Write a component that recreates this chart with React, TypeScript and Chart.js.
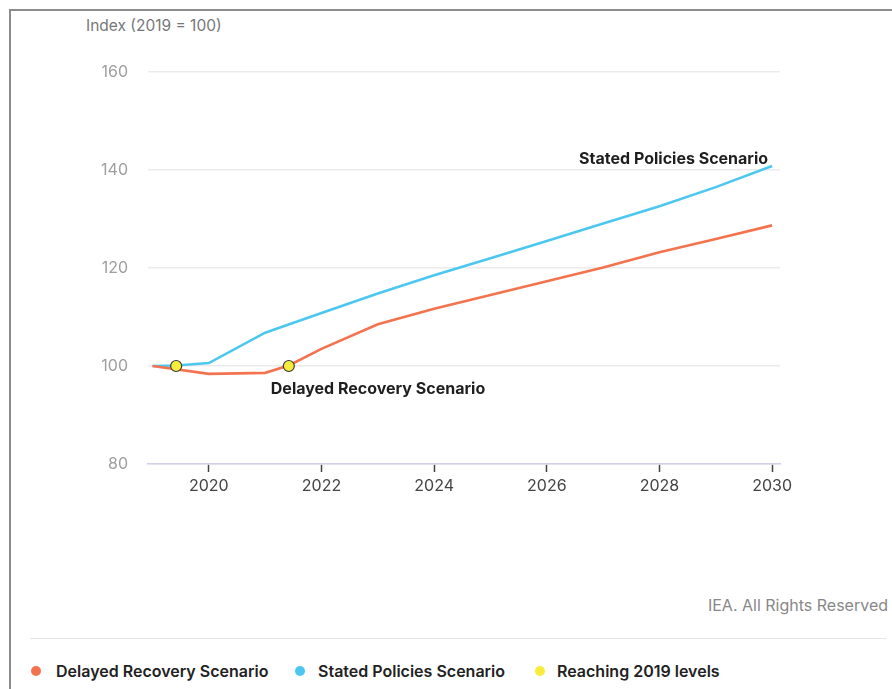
import React, { useEffect, useRef } from 'react';
import { Chart, registerables } from 'chart.js';

Chart.register(...registerables);

// ---- data ----
const delayedYears = [2019, 2020, 2021, 2021.42, 2022, 2023, 2024, 2025, 2026, 2027, 2028, 2029, 2030];
const delayedValues = [100, 98.4, 98.6, 100.1, 103.5, 108.5, 111.7, 114.5, 117.3, 120.1, 123.2, 125.9, 128.7];

const statedYears = [2019, 2019.42, 2020, 2021, 2022, 2023, 2024, 2025, 2026, 2027, 2028, 2029, 2030];
const statedValues = [100, 100.1, 100.6, 106.8, 110.8, 114.8, 118.5, 122.0, 125.5, 129.1, 132.6, 136.5, 140.8];

const reachingYears = [2019.42, 2021.42];
const reachingValues = [100, 100];

const xTicks = [2020, 2022, 2024, 2026, 2028, 2030];
const yTicks = [80, 100, 120, 140, 160];

const ORANGE = '#f4734f';
const BLUE = '#4cc8f0';
const YELLOW = '#f6ec3c';
const FONT = 'Inter, "Open Sans", sans-serif';

const labelPlugin = {
  id: 'scenarioLabels',
  afterDatasetsDraw(chart: any) {
    const { ctx, scales } = chart;
    const x = scales.x;
    const y = scales.y;
    ctx.save();
    ctx.font = `700 16px ${FONT}`;
    ctx.fillStyle = '#1e1e1e';
    ctx.textBaseline = 'middle';
    ctx.textAlign = 'right';
    ctx.fillText('Stated Policies Scenario', x.getPixelForValue(2030) - 4, y.getPixelForValue(142.2));
    ctx.textAlign = 'left';
    ctx.fillText('Delayed Recovery Scenario', x.getPixelForValue(2021.1), y.getPixelForValue(95.2));
    ctx.restore();
  },
};

export default function App() {
  const canvasRef = useRef<HTMLCanvasElement | null>(null);

  useEffect(() => {
    if (!canvasRef.current) return;
    const chart = new Chart(canvasRef.current, {
      type: 'line',
      data: {
        datasets: [
          {
            label: 'Reaching 2019 levels',
            data: reachingYears.map((x, i) => ({ x, y: reachingValues[i] })),
            showLine: false,
            pointRadius: 5.5,
            pointBackgroundColor: YELLOW,
            pointBorderColor: '#3a3a3a',
            pointBorderWidth: 1.2,
            borderColor: YELLOW,
            backgroundColor: YELLOW,
          },
          {
            label: 'Delayed Recovery Scenario',
            data: delayedYears.map((x, i) => ({ x, y: delayedValues[i] })),
            borderColor: ORANGE,
            backgroundColor: ORANGE,
            borderWidth: 2.6,
            pointRadius: 0,
            tension: 0,
          },
          {
            label: 'Stated Policies Scenario',
            data: statedYears.map((x, i) => ({ x, y: statedValues[i] })),
            borderColor: BLUE,
            backgroundColor: BLUE,
            borderWidth: 2.6,
            pointRadius: 0,
            tension: 0,
          },
        ],
      },
      options: {
        responsive: false,
        animation: false,
        layout: { padding: { left: 0, right: 112, top: 72, bottom: 0 } },
        plugins: { legend: { display: false }, tooltip: { enabled: false } },
        scales: {
          x: {
            type: 'linear',
            min: 2018.92,
            max: 2030.14,
            afterBuildTicks: (s: any) => {
              s.ticks = xTicks.map((v) => ({ value: v }));
            },
            afterFit: (s: any) => {
              s.height = 56;
            },
            grid: {
              drawOnChartArea: false,
              drawTicks: true,
              tickLength: 8,
              tickColor: '#444',
              tickWidth: 1.5,
            },
            border: { display: true, color: '#cfd0e6', width: 1.5 },
            ticks: {
              color: '#444',
              font: { family: FONT, size: 16 },
              padding: 5,
              callback: (v: any) => String(v),
            },
          },
          y: {
            type: 'linear',
            min: 80,
            max: 160,
            afterBuildTicks: (s: any) => {
              s.ticks = yTicks.map((v) => ({ value: v }));
            },
            afterFit: (s: any) => {
              s.width = 148;
            },
            grid: { color: '#ebebeb', drawTicks: false, lineWidth: 1.5 },
            border: { display: false },
            ticks: {
              color: '#9e9e9e',
              font: { family: FONT, size: 16 },
              padding: 20,
            },
          },
        },
      },
      plugins: [labelPlugin],
    } as any);
    return () => chart.destroy();
  }, []);

  const legendText: React.CSSProperties = {
    position: 'absolute',
    top: 661,
    height: 20,
    lineHeight: '20px',
    fontFamily: FONT,
    fontSize: 16,
    fontWeight: 600,
    color: '#222',
    whiteSpace: 'nowrap',
  };
  const dot = (left: number, color: string): React.CSSProperties => ({
    position: 'absolute',
    left,
    top: 666,
    width: 10,
    height: 10,
    borderRadius: '50%',
    background: color,
  });

  return (
    <div style={{ position: 'absolute', left: 0, top: 0, width: 892, height: 689, overflow: 'hidden', background: '#fff' }}>
      <div
        style={{
          position: 'absolute',
          left: 9,
          top: 9,
          width: 900,
          height: 700,
          borderTop: '2px solid #8c8c8c',
          borderLeft: '2px solid #8c8c8c',
        }}
      />
      <div
        style={{
          position: 'absolute',
          left: 86,
          top: 16,
          height: 20,
          lineHeight: '20px',
          fontFamily: FONT,
          fontSize: 15.5,
          color: '#777',
          whiteSpace: 'nowrap',
        }}
      >
        Index (2019 = 100)
      </div>
      <canvas
        ref={canvasRef}
        width={892}
        height={520}
        style={{ position: 'absolute', left: 0, top: 0, display: 'block' }}
      />
      <div
        style={{
          position: 'absolute',
          right: 4,
          top: 595,
          height: 20,
          lineHeight: '20px',
          fontFamily: FONT,
          fontSize: 16,
          color: '#888',
          whiteSpace: 'nowrap',
        }}
      >
        IEA. All Rights Reserved
      </div>
      <div style={{ position: 'absolute', left: 30, top: 638, width: 856, height: 1, background: '#e4e4e4' }} />
      <div style={dot(31, ORANGE)} />
      <div style={{ ...legendText, left: 56 }}>Delayed Recovery Scenario</div>
      <div style={dot(295, BLUE)} />
      <div style={{ ...legendText, left: 318 }}>Stated Policies Scenario</div>
      <div style={dot(535, YELLOW)} />
      <div style={{ ...legendText, left: 557 }}>Reaching 2019 levels</div>
    </div>
  );
}
